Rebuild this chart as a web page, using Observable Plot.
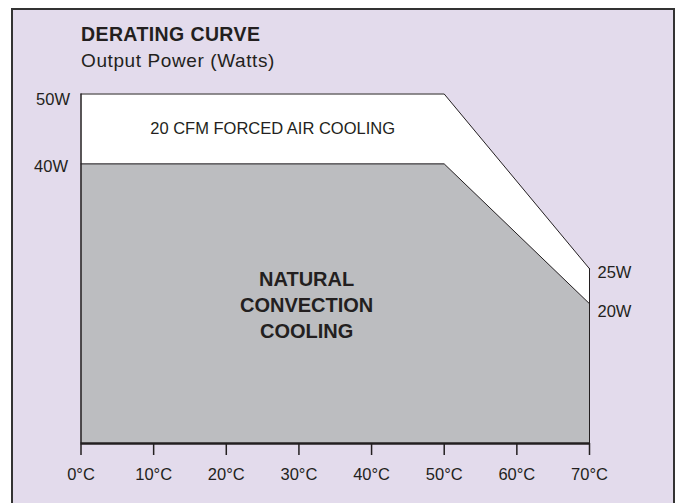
<!DOCTYPE html>
<html>
<head>
<meta charset="utf-8">
<script src="https://cdn.jsdelivr.net/npm/d3@7"></script>
<script src="https://cdn.jsdelivr.net/npm/@observablehq/plot@0.6"></script>
<style>
  body { margin: 0; background: #fff; font-family: "Liberation Sans", Arial, Helvetica, sans-serif; color: #231f20; }
  #wrap { position: relative; width: 678px; height: 503px; overflow: hidden; }
  #frame { position: absolute; left: 11px; top: 8px; width: 664px; height: 530px; box-sizing: border-box; border: 2px solid #333; background: #e3dbec; }
  #title { position: absolute; left: 81px; top: 24.8px; margin: 0; font-weight: bold; font-size: 19.5px; line-height: 19.5px; letter-spacing: 0.4px; white-space: nowrap; }
  #subtitle { position: absolute; left: 81px; top: 50.9px; margin: 0; font-weight: normal; font-size: 19px; line-height: 19px; letter-spacing: 0.6px; white-space: nowrap; }
  #chart { position: absolute; left: 0; top: 75px; }
</style>
</head>
<body>
<div id="wrap">
  <div id="frame"></div>
  <div id="title">DERATING CURVE</div>
  <div id="subtitle">Output Power (Watts)</div>
  <div id="chart"></div>
</div>
<script>
// ---- data ----
const temps   = [0, 50, 70];          // °C
const forced  = [50, 50, 25];         // W, 20 CFM forced air cooling
const natural = [40, 40, 20];         // W, natural convection cooling
const xTicks  = [0, 10, 20, 30, 40, 50, 60, 70];
const leftLabels  = ["50W", "40W"];
const rightLabels = ["25W", "20W"];
const forcedLabel  = "20 CFM FORCED AIR COOLING";
const naturalLabel = "NATURAL\nCONVECTION\nCOOLING";

const ink = "#231f20";
const fs = 16.5;
const table = temps.map((t, i) => ({t, forced: forced[i], natural: natural[i]}));
const first = table[0], last = table[table.length - 1];

const chart = Plot.plot({
  width: 678,
  height: 428,
  marginLeft: 80.5,
  marginRight: 89,
  marginTop: 18.5,
  marginBottom: 60,
  style: {
    background: "transparent",
    fontFamily: '"Liberation Sans", Arial, Helvetica, sans-serif',
    fontSize: fs + "px",
    color: ink,
    overflow: "visible"
  },
  x: {domain: [0, 70], axis: null},
  y: {domain: [0, 50], axis: null},
  marks: [
    Plot.areaY(table, {x: "t", y1: "natural", y2: "forced", fill: "#ffffff"}),
    Plot.areaY(table, {x: "t", y1: 0, y2: "natural", fill: "#bcbdc0"}),
    Plot.lineY(table, {x: "t", y: "forced", stroke: ink, strokeWidth: 1}),
    Plot.lineY(table, {x: "t", y: "natural", stroke: ink, strokeWidth: 1}),
    Plot.ruleX([first], {x: "t", y1: 0, y2: "forced", stroke: ink, strokeWidth: 1.5}),
    Plot.ruleX([last], {x: "t", y1: 0, y2: "forced", stroke: ink, strokeWidth: 1}),
    Plot.ruleY([0], {stroke: ink, strokeWidth: 2.5}),
    Plot.axisX(xTicks, {
      tickSize: 12, tickPadding: 13, strokeWidth: 1.5, color: ink,
      tickFormat: d => `${d}°C`, fontSize: fs, label: null
    }),
    // left labels
    Plot.text([first], {x: "t", y: "forced", text: () => leftLabels[0], textAnchor: "end", dx: -11, dy: 6, fill: ink, fontSize: fs}),
    Plot.text([first], {x: "t", y: "natural", text: () => leftLabels[1], textAnchor: "end", dx: -13, dy: 3, fill: ink, fontSize: fs}),
    // right labels
    Plot.text([last], {x: "t", y: "forced", text: () => rightLabels[0], textAnchor: "start", dx: 8, dy: 4, fill: ink, fontSize: fs}),
    Plot.text([last], {x: "t", y: "natural", text: () => rightLabels[1], textAnchor: "start", dx: 8, dy: 8, fill: ink, fontSize: fs}),
    // region labels
    Plot.text([first], {
      x: d => (temps[0] + temps[1]) / 2, y: d => (forced[0] + natural[0]) / 2,
      text: () => forcedLabel, dx: 10, fill: ink, fontSize: fs
    }),
    Plot.text([first], {
      x: d => (temps[0] + temps[1]) / 2, y: d => natural[0] / 2,
      text: () => naturalLabel, dx: 44, fill: ink, fontSize: 20, fontWeight: "bold", lineHeight: 1.3
    })
  ]
});
document.getElementById("chart").appendChild(chart);
</script>
</body>
</html>
